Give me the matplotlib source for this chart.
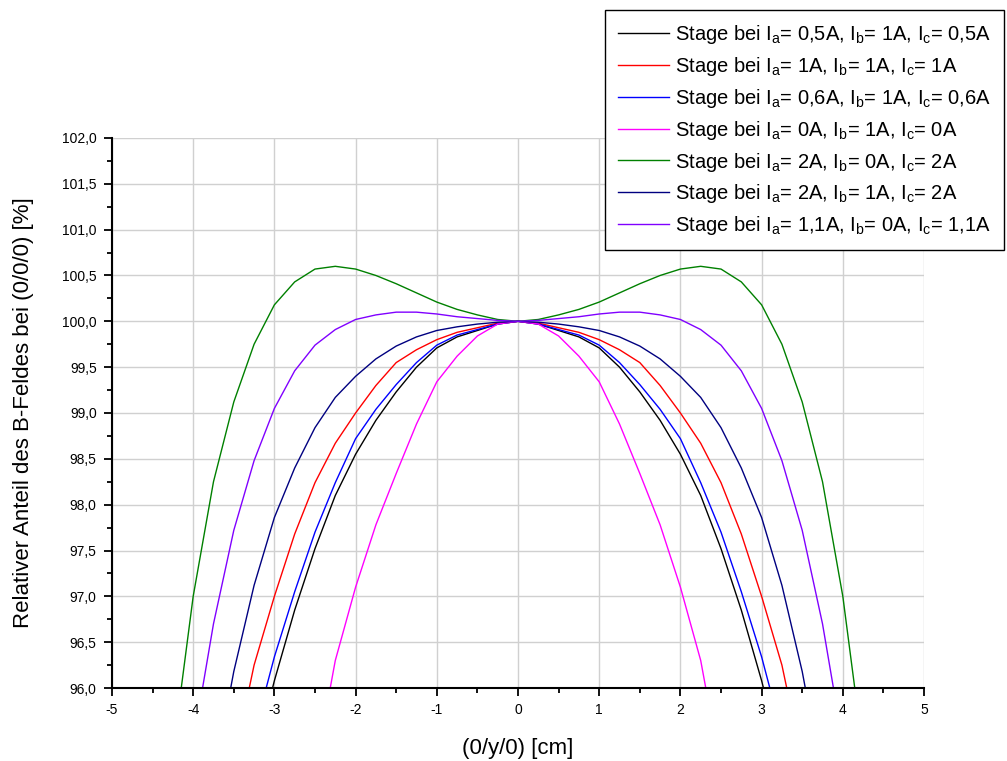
from matplotlib import pyplot as plt
from matplotlib.ticker import MultipleLocator, FuncFormatter

plt.rcParams['font.family'] = ['Liberation Sans', 'DejaVu Sans']
plt.rcParams['mathtext.default'] = 'regular'
plt.rcParams['axes.unicode_minus'] = False

# position along y axis in cm
y_pos = [-4.25, -4.0, -3.75, -3.5, -3.25, -3.0, -2.75, -2.5, -2.25, -2.0, -1.75, -1.5,
         -1.25, -1.0, -0.75, -0.5, -0.25, 0.0, 0.25, 0.5, 0.75, 1.0, 1.25, 1.5, 1.75,
         2.0, 2.25, 2.5, 2.75, 3.0, 3.25, 3.5, 3.75, 4.0, 4.25]

# relative field strength in % of B(0/0/0)
b_05_1_05 = [90.00, 91.60, 93.00, 94.20, 95.20, 96.08, 96.85, 97.52, 98.10, 98.55, 98.92, 99.23,
             99.50, 99.71, 99.83, 99.90, 99.97, 100.00, 99.97, 99.90, 99.83, 99.71, 99.50, 99.23,
             98.92, 98.55, 98.10, 97.52, 96.85, 96.08, 95.20, 94.20, 93.00, 91.60, 90.00]
b_1_1_1 = [91.00, 92.60, 94.00, 95.20, 96.25, 97.00, 97.68, 98.24, 98.67, 99.00, 99.30, 99.55,
           99.69, 99.80, 99.88, 99.93, 99.98, 100.00, 99.98, 99.93, 99.88, 99.80, 99.69, 99.55,
           99.30, 99.00, 98.67, 98.24, 97.68, 97.00, 96.25, 95.20, 94.00, 92.60, 91.00]
b_06_1_06 = [90.50, 92.00, 93.30, 94.50, 95.50, 96.34, 97.05, 97.70, 98.24, 98.72, 99.04, 99.31,
             99.55, 99.74, 99.85, 99.91, 99.97, 100.00, 99.97, 99.91, 99.85, 99.74, 99.55, 99.31,
             99.04, 98.72, 98.24, 97.70, 97.05, 96.34, 95.50, 94.50, 93.30, 92.00, 90.50]
b_0_1_0 = [83.00, 85.00, 87.00, 89.00, 90.70, 92.30, 93.80, 95.10, 96.30, 97.10, 97.78, 98.34,
           98.88, 99.34, 99.62, 99.84, 99.97, 100.00, 99.97, 99.84, 99.62, 99.34, 98.88, 98.34,
           97.78, 97.10, 96.30, 95.10, 93.80, 92.30, 90.70, 89.00, 87.00, 85.00, 83.00]
b_2_0_2 = [95.30, 97.00, 98.25, 99.12, 99.75, 100.18, 100.43, 100.57, 100.60, 100.57, 100.50, 100.41,
           100.31, 100.21, 100.13, 100.07, 100.02, 100.00, 100.02, 100.07, 100.13, 100.21, 100.31, 100.41,
           100.50, 100.57, 100.60, 100.57, 100.43, 100.18, 99.75, 99.12, 98.25, 97.00, 95.30]
b_2_1_2 = [92.00, 93.60, 95.00, 96.18, 97.12, 97.86, 98.40, 98.84, 99.17, 99.40, 99.59, 99.73,
           99.83, 99.90, 99.94, 99.97, 99.99, 100.00, 99.99, 99.97, 99.94, 99.90, 99.83, 99.73,
           99.59, 99.40, 99.17, 98.84, 98.40, 97.86, 97.12, 96.18, 95.00, 93.60, 92.00]
b_11_0_11 = [93.80, 95.40, 96.70, 97.72, 98.48, 99.05, 99.46, 99.74, 99.91, 100.02, 100.07, 100.10,
             100.10, 100.08, 100.05, 100.03, 100.01, 100.00, 100.01, 100.03, 100.05, 100.08, 100.10, 100.10,
             100.07, 100.02, 99.91, 99.74, 99.46, 99.05, 98.48, 97.72, 96.70, 95.40, 93.80]

series = [b_05_1_05, b_1_1_1, b_06_1_06, b_0_1_0, b_2_0_2, b_2_1_2, b_11_0_11]
colors = ['black', '#ff0000', '#0000ff', '#ff00ff', '#008000', '#000080', '#8000ff']
currents = [('0,5A', '1A', '0,5A'), ('1A', '1A', '1A'), ('0,6A', '1A', '0,6A'),
            ('0A', '1A', '0A'), ('2A', '0A', '2A'), ('2A', '1A', '2A'), ('1,1A', '0A', '1,1A')]
labels = ['Stage bei I$_a$= %s, I$_b$= %s, I$_c$= %s' % c for c in currents]

fig = plt.figure(figsize=(10.07, 7.61), dpi=100)
ax = fig.add_axes([0.1112, 0.0959, 0.8064, 0.7228])

for vals, col, lab in zip(series, colors, labels):
    ax.plot(y_pos, vals, color=col, linewidth=1.0, label=lab)

ax.set_xlim(-5, 5)
ax.set_ylim(96, 102)
ax.xaxis.set_major_locator(MultipleLocator(1))
ax.xaxis.set_minor_locator(MultipleLocator(0.5))
ax.yaxis.set_major_locator(MultipleLocator(0.5))
ax.yaxis.set_minor_locator(MultipleLocator(0.25))
ax.yaxis.set_major_formatter(FuncFormatter(lambda v, p: ('%.1f' % v).replace('.', ',')))
ax.xaxis.set_major_formatter(FuncFormatter(lambda v, p: '%d' % v))

ax.spines['top'].set_visible(False)
ax.spines['right'].set_visible(False)
ax.spines['left'].set_linewidth(1.5)
ax.spines['bottom'].set_linewidth(1.5)
ax.tick_params(which='major', direction='out', length=6, width=1.3, labelsize=10, pad=5)
ax.tick_params(which='minor', direction='out', length=3.5, width=1.3)

# grid only inside the frame
ax.grid(True, which='major', color='#d0d0d0', linewidth=1.0)
ax.set_axisbelow(True)
fig.canvas.draw()
for g in (ax.xaxis.get_gridlines()[0], ax.xaxis.get_gridlines()[-1],
          ax.yaxis.get_gridlines()[0], ax.yaxis.get_gridlines()[-1]):
    g.set_visible(False)

ax.set_xlabel('(0/y/0) [cm]', fontsize=16, labelpad=15)
ax.set_ylabel('Relativer Anteil des B-Feldes bei (0/0/0) [%]', fontsize=16, labelpad=20)

leg = fig.legend(loc='upper right', bbox_to_anchor=(1004 / 1007, 1 - 10 / 761),
                 fontsize=14.5, handlelength=2.5, handletextpad=0.3, labelspacing=0.44,
                 borderpad=0.65, borderaxespad=0, fancybox=False, framealpha=1,
                 edgecolor='black')
leg.get_frame().set_linewidth(1.0)

plt.savefig('out.png', dpi=100)
